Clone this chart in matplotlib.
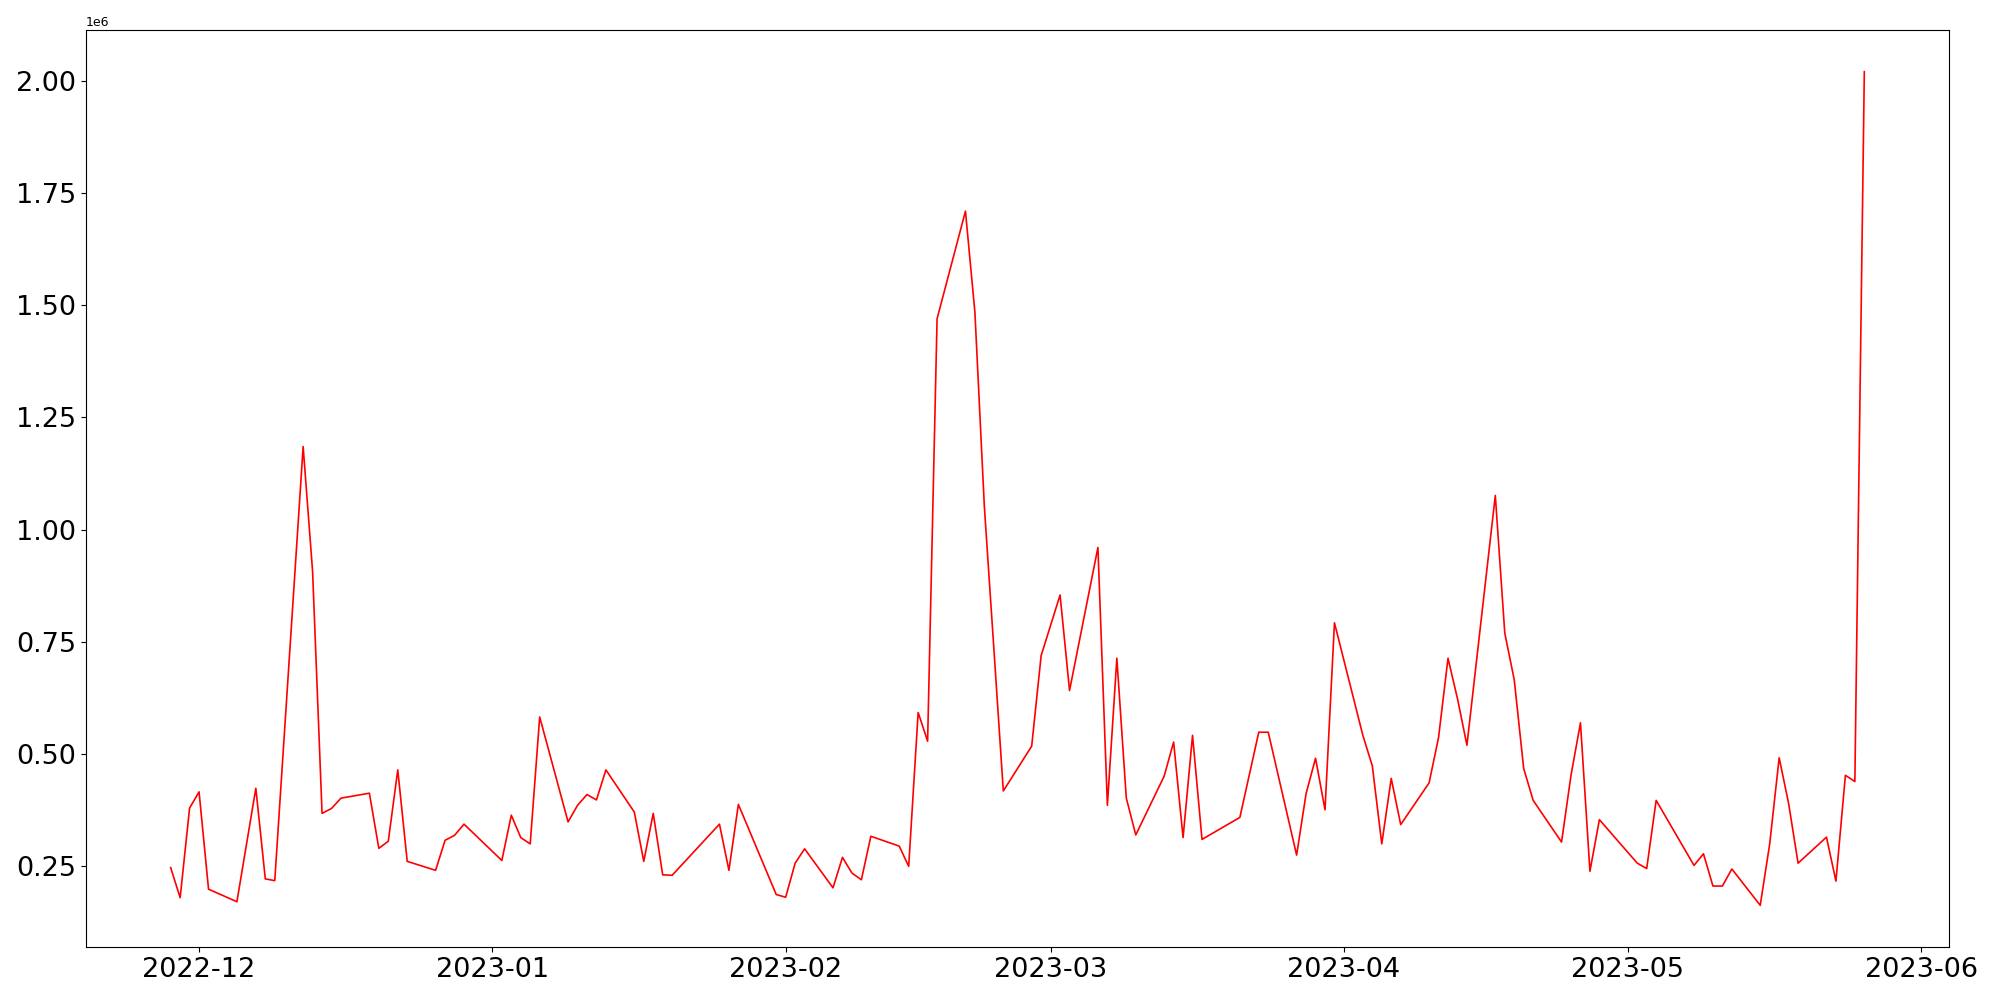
import numpy as np
import pandas as pd
import matplotlib
matplotlib.use('Agg')
from matplotlib import pyplot as plt
import matplotlib.dates as mdates

# datums en waarden (in miljoenen)
datums = [
    '2022-11-28', '2022-11-29', '2022-11-30', '2022-12-01', '2022-12-02',
    '2022-12-05', '2022-12-07', '2022-12-08', '2022-12-09', '2022-12-12',
    '2022-12-13', '2022-12-14', '2022-12-15', '2022-12-16', '2022-12-19',
    '2022-12-20', '2022-12-21', '2022-12-22', '2022-12-23', '2022-12-26',
    '2022-12-27', '2022-12-28', '2022-12-29', '2023-01-02', '2023-01-03',
    '2023-01-04', '2023-01-05', '2023-01-06', '2023-01-09', '2023-01-10',
    '2023-01-11', '2023-01-12', '2023-01-13', '2023-01-16', '2023-01-17',
    '2023-01-18', '2023-01-19', '2023-01-20', '2023-01-25', '2023-01-26',
    '2023-01-27', '2023-01-31', '2023-02-01', '2023-02-02', '2023-02-03',
    '2023-02-06', '2023-02-07', '2023-02-08', '2023-02-09', '2023-02-10',
    '2023-02-13', '2023-02-14', '2023-02-15', '2023-02-16', '2023-02-17',
    '2023-02-20', '2023-02-21', '2023-02-22', '2023-02-23', '2023-02-24',
    '2023-02-27', '2023-02-28', '2023-03-02', '2023-03-03', '2023-03-06',
    '2023-03-07', '2023-03-08', '2023-03-09', '2023-03-10', '2023-03-13',
    '2023-03-14', '2023-03-15', '2023-03-16', '2023-03-17', '2023-03-21',
    '2023-03-22', '2023-03-23', '2023-03-24', '2023-03-27', '2023-03-28',
    '2023-03-29', '2023-03-30', '2023-03-31', '2023-04-03', '2023-04-04',
    '2023-04-05', '2023-04-06', '2023-04-07', '2023-04-10', '2023-04-11',
    '2023-04-12', '2023-04-13', '2023-04-14', '2023-04-17', '2023-04-18',
    '2023-04-19', '2023-04-20', '2023-04-21', '2023-04-24', '2023-04-25',
    '2023-04-26', '2023-04-27', '2023-04-28', '2023-05-02', '2023-05-03',
    '2023-05-04', '2023-05-08', '2023-05-09', '2023-05-10', '2023-05-11',
    '2023-05-12', '2023-05-15', '2023-05-16', '2023-05-17', '2023-05-18',
    '2023-05-19', '2023-05-22', '2023-05-23', '2023-05-24', '2023-05-25',
    '2023-05-26',
]
waarden = [
    0.246, 0.179, 0.379, 0.415, 0.198,
    0.170, 0.423, 0.221, 0.217, 1.185,
    0.906, 0.367, 0.378, 0.401, 0.412,
    0.289, 0.305, 0.464, 0.260, 0.240,
    0.307, 0.318, 0.343, 0.262, 0.363,
    0.313, 0.299, 0.582, 0.348, 0.385,
    0.409, 0.397, 0.464, 0.370, 0.260,
    0.367, 0.230, 0.229, 0.343, 0.240,
    0.387, 0.186, 0.180, 0.256, 0.288,
    0.201, 0.269, 0.234, 0.219, 0.316,
    0.294, 0.249, 0.592, 0.528, 1.470,
    1.710, 1.484, 1.050, 0.735, 0.417,
    0.517, 0.719, 0.854, 0.641, 0.960,
    0.385, 0.713, 0.401, 0.319, 0.450,
    0.526, 0.313, 0.541, 0.309, 0.358,
    0.453, 0.548, 0.548, 0.274, 0.411,
    0.490, 0.375, 0.792, 0.541, 0.473,
    0.299, 0.445, 0.342, 0.435, 0.536,
    0.713, 0.623, 0.519, 1.076, 0.769,
    0.665, 0.467, 0.396, 0.303, 0.452,
    0.569, 0.238, 0.353, 0.256, 0.244,
    0.396, 0.251, 0.277, 0.205, 0.205,
    0.243, 0.162, 0.299, 0.491, 0.389,
    0.256, 0.314, 0.216, 0.452, 0.438,
    2.021,
]

x = pd.to_datetime(datums)
y = np.array(waarden) * 1e6

fig, ax = plt.subplots(figsize=(20, 10), dpi=100)
fig.subplots_adjust(left=0.043, right=0.9745, bottom=0.053, top=0.97)

ax.plot(x, y, color='red', linewidth=1.2)

ax.xaxis.set_major_locator(mdates.MonthLocator())
ax.xaxis.set_major_formatter(mdates.DateFormatter('%Y-%m'))
ax.tick_params(axis='both', labelsize=19.5)
ax.yaxis.get_offset_text().set_fontsize(9)

plt.savefig('out.png', dpi=100)
